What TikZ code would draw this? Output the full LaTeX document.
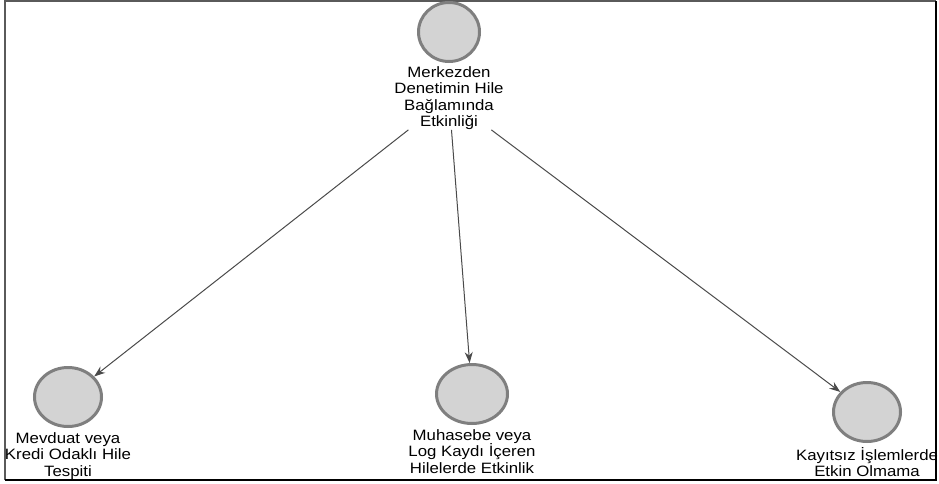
\documentclass[tikz,border=0pt]{standalone}
\usepackage{fontspec}
\setmainfont{Liberation Sans}[FakeStretch=1.12]
\usetikzlibrary{arrows.meta,positioning,shapes.geometric}
\definecolor{nodefill}{HTML}{D3D3D3}
\definecolor{noderim}{HTML}{7F7F7F}
\definecolor{edge}{HTML}{4A4A4A}
\definecolor{frameink}{HTML}{5A5A5A}

\begin{document}
\begin{tikzpicture}[>={Stealth[length=11pt,width=8pt]},x=1pt,y=1pt,
  node distance=4pt,
  concept/.style={ellipse,draw=noderim,fill=nodefill,line width=3pt,
    minimum width=67pt,minimum height=59pt,inner sep=0pt},
  caption/.style={align=center,inner sep=0pt,text=black,
    font=\fontsize{15}{16.5}\selectfont},
  link/.style={->,edge,line width=1pt}]
 \useasboundingbox (0,0) rectangle (939,483);
 % frame
 \draw[frameink,line width=2pt] (5,3) -- (5,482) -- (936,482);
 \draw[black,line width=1.5pt] (5,3) -- (936,3) -- (936,482);
 % concepts
 \node[concept,minimum width=61pt] (merkez) at (449,451) {};
 \node[caption,below=3pt of merkez] (merkezlbl)
   {Merkezden\\Denetimin Hile\\Bağlamında\\Etkinliği};
 \node[concept] (mevduat) at (68,86) {};
 \node[caption,below=of mevduat] (mevduatlbl)
   {Mevduat veya\\Kredi Odaklı Hile\\Tespiti};
 \node[concept,minimum width=71pt] (muhasebe) at (472,89) {};
 \node[caption,below=of muhasebe] (muhasebelbl)
   {Muhasebe veya\\Log Kaydı İçeren\\Hilelerde Etkinlik};
 \node[concept] (kayitsiz) at (867,71) {};
 \node[caption,below=of kayitsiz] (kayitsizlbl)
   {Kayıtsız İşlemlerde\\Etkin Olmama};
 % links
 \draw[link] (merkezlbl) -- (mevduat);
 \draw[link] (merkezlbl) -- (muhasebe);
 \draw[link] (merkezlbl) -- (kayitsiz);
\end{tikzpicture}
\end{document}
